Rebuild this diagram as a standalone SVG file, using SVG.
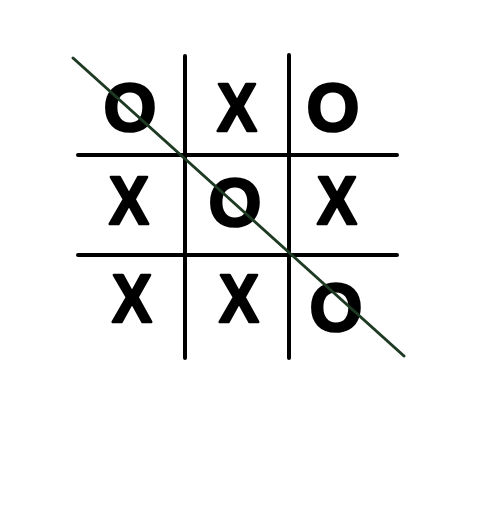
<svg xmlns="http://www.w3.org/2000/svg" width="489" height="510" viewBox="0 0 489 510">
<style>
.grid{stroke:#000;stroke-width:4;stroke-linecap:round;fill:none}
.win{stroke:#1e3a22;stroke-width:3;stroke-linecap:round;fill:none}
.m{font-family:"Liberation Sans",Arial,sans-serif;font-weight:bold;font-size:68px;fill:#000;stroke:#000;stroke-width:2.5;stroke-linejoin:round;text-anchor:middle}
</style>
<rect width="489" height="510" fill="#fff"/>
<g id="grid">
<line class="grid" x1="185" y1="56" x2="185" y2="358"/>
<line class="grid" x1="289" y1="55" x2="289" y2="358"/>
<line class="grid" x1="78" y1="155" x2="397" y2="155"/>
<line class="grid" x1="78" y1="255" x2="397" y2="255"/>
</g>
<g id="c11"><text class="m" x="130" y="131">O</text></g>
<g id="c12"><text class="m" x="237" y="131" transform="translate(237 0) scale(0.88 1) translate(-237 0)">X</text></g>
<g id="c13"><text class="m" x="333" y="131">O</text></g>
<g id="c21"><text class="m" x="129" y="224" transform="translate(129 0) scale(0.88 1) translate(-129 0)">X</text></g>
<g id="c22"><text class="m" x="235" y="226">O</text></g>
<g id="c23"><text class="m" x="337" y="224" transform="translate(337 0) scale(0.88 1) translate(-337 0)">X</text></g>
<g id="c31"><text class="m" x="132" y="322" transform="translate(132 0) scale(0.88 1) translate(-132 0)">X</text></g>
<g id="c32"><text class="m" x="239" y="322" transform="translate(239 0) scale(0.88 1) translate(-239 0)">X</text></g>
<g id="c33"><text class="m" x="336" y="331">O</text></g>
<g id="connectors">
<line class="win" x1="73" y1="58" x2="404" y2="356"/>
</g>
</svg>
